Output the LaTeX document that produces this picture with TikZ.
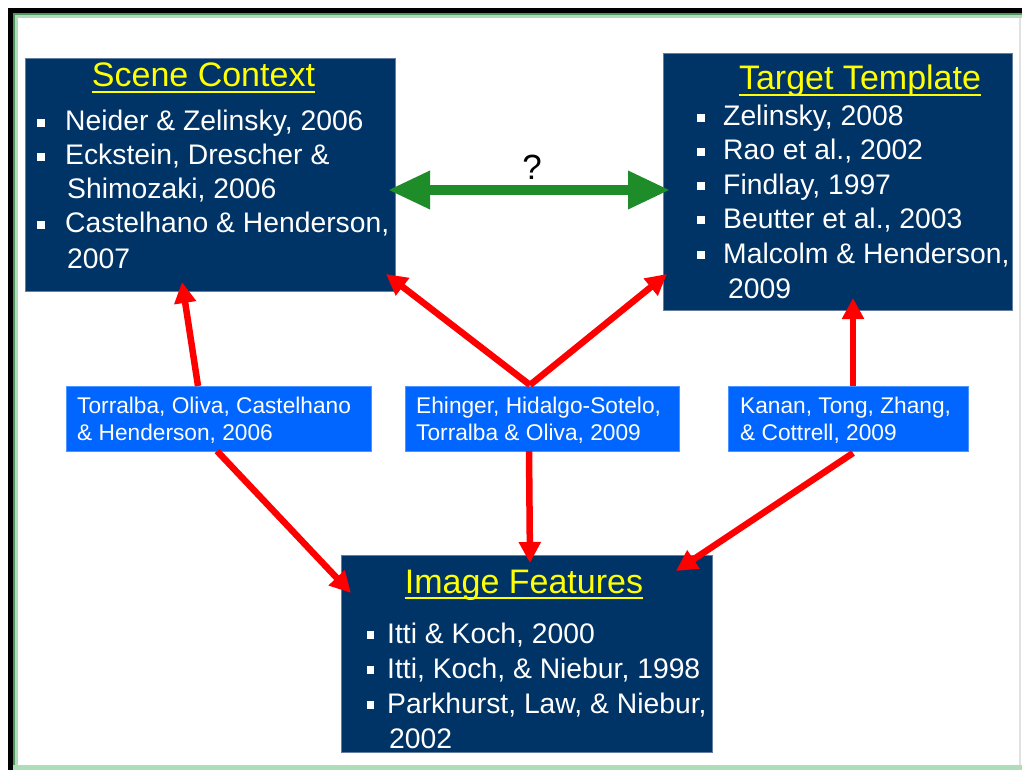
\documentclass[tikz,border=0pt]{standalone}
\usepackage{fontspec}
\setmainfont{Liberation Sans}
\usetikzlibrary{arrows.meta}
\definecolor{navy}{RGB}{0,51,102}
\definecolor{navyedge}{RGB}{100,125,160}
\definecolor{bblue}{RGB}{0,102,255}
\definecolor{arrred}{RGB}{255,0,0}
\definecolor{arrgreen}{RGB}{30,140,40}
\definecolor{ttl}{RGB}{255,255,0}
\definecolor{gdark}{RGB}{80,150,95}
\definecolor{glight}{RGB}{175,220,185}
\definecolor{edgegray}{RGB}{225,225,225}
\tikzset{
  navybox/.style={fill=navy, draw=navyedge, line width=0.8pt, anchor=north west, inner sep=0pt},
  bluebox/.style={fill=bblue, draw=bblue!70!white, line width=0.6pt, anchor=north west, inner sep=0pt},
  titletxt/.style={anchor=base, inner sep=0pt, text=ttl, font=\fontsize{34}{40}\selectfont},
  bultxt/.style={anchor=base west, inner sep=0pt, text=white, font=\fontsize{28.3}{33}\selectfont},
  labtxt/.style={anchor=base west, inner sep=0pt, text=white, font=\fontsize{22.7}{26}\selectfont},
  bulletsq/.style={fill=white, minimum size=7.5pt, inner sep=0pt},
  redarrow/.style={draw=arrred, line width=6.5pt, -{Triangle[length=21pt,width=21pt]}},
  greenarrow/.style={draw=arrgreen, line width=9.5pt, {Triangle[length=42pt,width=36pt]}-{Triangle[length=42pt,width=36pt]}},
  uline/.style={draw=ttl, line width=1.5pt}
}
\begin{document}
\begin{tikzpicture}[x=1pt,y=-1pt]
\useasboundingbox (0,0) rectangle (1022,770);
\fill[white] (0,0) rectangle (1022,770);
% frame
\fill[black] (8,8) rectangle (1022,13);
\fill[black] (8,8) rectangle (13,770);
\fill[gdark] (13,13) rectangle (1022,15);
\fill[gdark] (13,13) rectangle (15,770);
\fill[glight] (15,15) rectangle (1022,18);
\fill[glight] (15,15) rectangle (18,770);
\fill[glight] (13,765) rectangle (1022,770);
\fill[edgegray] (1019,18) rectangle (1021,765);

% main boxes
\node[navybox, minimum width=370pt, minimum height=233pt] (scene) at (25,58) {};
\node[navybox, minimum width=349pt, minimum height=257pt] (target) at (663,53) {};
\node[navybox, minimum width=371pt, minimum height=197pt] (image) at (341,555) {};

% label boxes
\node[bluebox, minimum width=305pt, minimum height=65pt] (lab1) at (66,386) {};
\node[bluebox, minimum width=274pt, minimum height=65pt] (lab2) at (405,386) {};
\node[bluebox, minimum width=240pt, minimum height=65pt] (lab3) at (728,386) {};

% Scene Context
\node[titletxt] (st) at (203.5,87) {Scene Context};
\draw[uline] ([yshift=-5pt]st.base west) -- ([yshift=-5pt]st.base east);
\node[bulletsq] (sb1) at (41,123) {};
\node[bulletsq] (sb2) at (41,157) {};
\node[bulletsq] (sb3) at (41,225) {};
\node[bultxt] (s1) at (65,131) {Neider \& Zelinsky, 2006};
\node[bultxt] (s2) at (65,165) {Eckstein, Drescher \&};
\node[bultxt] (s3) at (67,199) {Shimozaki, 2006};
\node[bultxt] (s4) at (65,233) {Castelhano \& Henderson,};
\node[bultxt] (s5) at (67,268) {2007};

% Target Template
\node[titletxt] (tt) at (860,90) {Target Template};
\draw[uline] ([yshift=-5pt]tt.base west) -- ([yshift=-5pt]tt.base east);
\node[bulletsq] (tb1) at (701,118) {};
\node[bulletsq] (tb2) at (701,152) {};
\node[bulletsq] (tb3) at (701,186) {};
\node[bulletsq] (tb4) at (701,220) {};
\node[bulletsq] (tb5) at (701,255) {};
\node[bultxt] (t1) at (723,126) {Zelinsky, 2008};
\node[bultxt] (t2) at (723,160) {Rao et al., 2002};
\node[bultxt] (t3) at (723,194) {Findlay, 1997};
\node[bultxt] (t4) at (723,228) {Beutter et al., 2003};
\node[bultxt] (t5) at (723,263) {Malcolm \& Henderson,};
\node[bultxt] (t6) at (728,298) {2009};

% Image Features
\node[titletxt] (it) at (524,593) {Image Features};
\draw[uline] ([yshift=-5pt]it.base west) -- ([yshift=-5pt]it.base east);
\node[bulletsq] (ib1) at (370.5,635) {};
\node[bulletsq] (ib2) at (370.5,670) {};
\node[bulletsq] (ib3) at (370.5,705) {};
\node[bultxt] (i1) at (387,643) {Itti \& Koch, 2000};
\node[bultxt] (i2) at (387,678) {Itti, Koch, \& Niebur, 1998};
\node[bultxt] (i3) at (387,713) {Parkhurst, Law, \& Niebur,};
\node[bultxt] (i4) at (389,748) {2002};

% label texts
\node[labtxt] (l1a) at (77,413) {Torralba, Oliva, Castelhano};
\node[labtxt] (l1b) at (77,440) {\& Henderson, 2006};
\node[labtxt] (l2a) at (416,413) {Ehinger, Hidalgo-Sotelo,};
\node[labtxt] (l2b) at (416,440) {Torralba \& Oliva, 2009};
\node[labtxt] (l3a) at (740,413) {Kanan, Tong, Zhang,};
\node[labtxt] (l3b) at (740,440) {\& Cottrell, 2009};

% question mark
\node[anchor=base, inner sep=0pt, font=\fontsize{35}{40}\selectfont] (q) at (532,179) {?};

% connector points
\coordinate (p1t) at (198,386);
\coordinate (p1h) at (182,282);
\coordinate (p1b) at (217,451);
\coordinate (p1i) at (351,593);
\coordinate (p2t) at (530,385);
\coordinate (p2l) at (386,274);
\coordinate (p2r) at (667,274);
\coordinate (p2b) at (529,451);
\coordinate (p2i) at (530,563);
\coordinate (p3t) at (853,386);
\coordinate (p3h) at (853,298);
\coordinate (p3b) at (853,453);
\coordinate (p3i) at (676,571);
\coordinate (gl) at (388,190);
\coordinate (gr) at (670,190);

\draw[redarrow] (p1t) -- (p1h);
\draw[redarrow] (p1b) -- (p1i);
\draw[redarrow] (p2t) -- (p2l);
\draw[redarrow] (p2t) -- (p2r);
\draw[redarrow] (p2b) -- (p2i);
\draw[redarrow] (p3t) -- (p3h);
\draw[redarrow] (p3b) -- (p3i);
\draw[greenarrow] (gl) -- (gr);
\end{tikzpicture}
\end{document}
